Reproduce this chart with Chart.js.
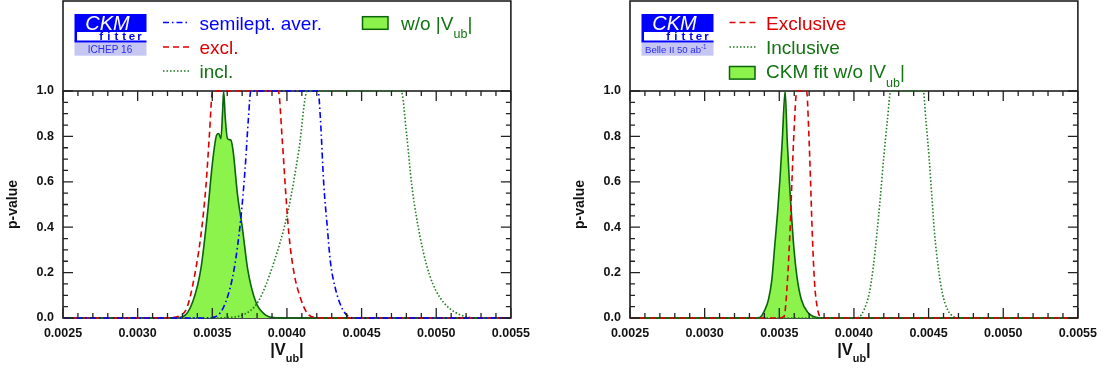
<!DOCTYPE html>
<html>
<head>
<meta charset="utf-8">
<script src="https://cdn.jsdelivr.net/npm/chart.js@4/dist/chart.umd.min.js"></script>
<style>
  html, body { margin: 0; padding: 0; background: #fff; }
  #wrap { position: relative; width: 1105px; height: 369px; overflow: hidden; }
  .panel { position: absolute; top: 0; width: 538px; height: 369px; }
</style>
</head>
<body>
<div id="wrap">
  <div class="panel" style="left:0px"><canvas id="ichep" width="538" height="369"></canvas></div>
  <div class="panel" style="left:567px"><canvas id="belle" width="538" height="369"></canvas></div>
</div>
<script>
const FONT = '"Liberation Sans", Arial, Helvetica, sans-serif';

// axis ticks
const xTickValues = [0.0025, 0.0030, 0.0035, 0.0040, 0.0045, 0.0050, 0.0055];
const xTickLabels = ['0.0025', '0.0030', '0.0035', '0.0040', '0.0045', '0.0050', '0.0055'];
const yTickValues = [0, 0.2, 0.4, 0.6, 0.8, 1.0];
const yTickLabels = ['0.0', '0.2', '0.4', '0.6', '0.8', '1.0'];

// left panel (ICHEP 16)
const semiX = [0.0025, 0.00345, 0.00352, 0.003591, 0.003647, 0.003691, 0.00372, 0.003742, 0.003758,
               0.004209, 0.004224, 0.004247, 0.004269, 0.004291, 0.004324, 0.004369, 0.004413, 0.00446, 0.0055];
const semiP = [0, 0, 0.005, 0.072, 0.219, 0.439, 0.659, 0.88, 1,
               1, 0.88, 0.586, 0.41, 0.248, 0.131, 0.043, 0.006, 0, 0];

const exclX = [0.0025, 0.0032, 0.003291, 0.00333, 0.003369, 0.003424, 0.003458, 0.00348, 0.003502,
               0.003942, 0.003969, 0.003991, 0.004013, 0.004047, 0.004091, 0.004136, 0.00419, 0.0043, 0.0055];
const exclP = [0, 0.001, 0.013, 0.045, 0.145, 0.366, 0.586, 0.8, 1,
               1, 0.78, 0.56, 0.37, 0.2, 0.087, 0.021, 0.002, 0, 0];

const inclX = [0.0025, 0.0035, 0.003591, 0.003702, 0.003807, 0.00391, 0.004007, 0.00408, 0.004136,
               0.004765, 0.004802, 0.004836, 0.004869, 0.004913, 0.004955, 0.005, 0.00505, 0.0051, 0.00516, 0.00522, 0.00528, 0.0055];
const inclP = [0, 0, 0.002, 0.013, 0.072, 0.24, 0.47, 0.74, 1,
               1, 0.806, 0.586, 0.439, 0.292, 0.19, 0.118, 0.068, 0.037, 0.014, 0.003, 0, 0];

const fitX = [0.0025, 0.00322, 0.003302, 0.003369, 0.003424, 0.003469, 0.003502, 0.003529, 0.003542, 0.003558,
              0.003569, 0.003576, 0.003587, 0.003602, 0.003624, 0.00364, 0.003669, 0.003702, 0.003736,
              0.003791, 0.003858, 0.003913, 0.0040, 0.0055];
const fitP = [0, 0, 0.006, 0.072, 0.219, 0.468, 0.689, 0.806, 0.813, 0.79,
              0.909, 1.0, 0.88, 0.79, 0.784, 0.733, 0.542, 0.395, 0.219,
              0.072, 0.013, 0.002, 0, 0];

// right panel (Belle II 50 ab-1)
const b2ExclX = [0.0025, 0.0035, 0.003532, 0.003555, 0.003572, 0.003585, 0.003599, 0.003617,
                 0.003683, 0.003697, 0.003709, 0.00372, 0.003735, 0.003753, 0.003776, 0.0038, 0.0055];
const b2ExclP = [0, 0, 0.007, 0.168, 0.388, 0.608, 0.827, 1,
                 1, 0.827, 0.608, 0.388, 0.168, 0.051, 0.004, 0, 0];

const b2InclX = [0.0025, 0.0040, 0.004033, 0.004068, 0.004103, 0.00413, 0.004154, 0.004177, 0.0042, 0.004224, 0.004247,
                 0.004464, 0.004482, 0.004503, 0.004522, 0.00454, 0.004564, 0.004592, 0.004627, 0.004673, 0.0047, 0.0055];
const b2InclP = [0, 0, 0.004, 0.037, 0.11, 0.227, 0.373, 0.534, 0.71, 0.871, 1,
                 1, 0.871, 0.71, 0.534, 0.373, 0.227, 0.11, 0.037, 0.004, 0, 0];

const b2FitX = [0.0025, 0.00334, 0.003369, 0.003404, 0.003427, 0.00345, 0.003469, 0.003488, 0.003504, 0.00352, 0.003539,
                0.003553, 0.003567, 0.003581, 0.003597, 0.003618, 0.003648, 0.003695, 0.003741, 0.00378, 0.0055];
const b2FitP = [0, 0, 0.002, 0.037, 0.08, 0.168, 0.315, 0.461, 0.608, 0.783, 1,
                0.783, 0.608, 0.461, 0.315, 0.183, 0.08, 0.022, 0.004, 0, 0];

const BLUE = '#0000ff', RED = '#dd0000', GREEN = '#1b7d1b', TEXTGREEN = '#127312';
const FILLGREEN = '#8cf24c', EDGEGREEN = '#0a640a';

function pts(xs, ps) { return xs.map((x, i) => ({ x: x, y: ps[i] })); }

function lineSet(label, xs, ps, color, dash, textColor) {
  return { label, data: pts(xs, ps), borderColor: color, borderDash: dash, borderWidth: 1.6,
           fill: false, pointRadius: 0, cubicInterpolationMode: 'monotone', clip: 3, textColor };
}
function fitSet(label, xs, ps) {
  return { label, data: pts(xs, ps), borderColor: EDGEGREEN, backgroundColor: FILLGREEN, borderWidth: 1.6,
           fill: 'origin', pointRadius: 0, cubicInterpolationMode: 'monotone', clip: 3, textColor: TEXTGREEN };
}

// text with _{sub} and ^{sup}
function richParts(text) {
  return text.split(/([_^]\{[^}]*\})/).filter(p => p);
}
function richWidth(ctx, text, size, weight) {
  let w = 0;
  for (const p of richParts(text)) {
    const small = p[0] === '_' || p[0] === '^';
    const s = small ? p.slice(2, -1) : p;
    ctx.font = weight + ' ' + (small ? size * 0.66 : size) + 'px ' + FONT;
    w += ctx.measureText(s).width;
  }
  return w;
}
function drawRich(ctx, x, y, text, size, weight, color, subDy, supDy) {
  ctx.fillStyle = color;
  ctx.textAlign = 'left';
  ctx.textBaseline = 'alphabetic';
  let cx = x;
  for (const p of richParts(text)) {
    const small = p[0] === '_' || p[0] === '^';
    const s = small ? p.slice(2, -1) : p;
    ctx.font = weight + ' ' + (small ? size * 0.66 : size) + 'px ' + FONT;
    const dy = p[0] === '_' ? subDy : (p[0] === '^' ? -supDy : 0);
    ctx.fillText(s, cx, y + dy);
    cx += ctx.measureText(s).width;
  }
}

function drawLogo(ctx, x0, sub) {
  const w = 72;
  ctx.save();
  ctx.fillStyle = '#0000ff';
  ctx.fillRect(x0, 14, w, 18);
  ctx.fillRect(x0, 32, 2.5, 9);
  ctx.fillRect(x0, 40.5, w, 2.2);
  ctx.fillStyle = '#c6c6f2';
  ctx.fillRect(x0, 42.7, w, 13);
  ctx.fillStyle = '#ffffff';
  ctx.font = 'italic 20px ' + FONT;
  ctx.textAlign = 'center';
  ctx.textBaseline = 'alphabetic';
  ctx.fillText('CKM', x0 + 33, 29.5);
  ctx.fillStyle = '#0000ff';
  ctx.font = 'bold 11.5px ' + FONT;
  const letters = ['f', 'i', 't', 't', 'e', 'r'];
  letters.forEach((c, i) => ctx.fillText(c, x0 + 26.6 + i * 7.7, 40.3));
  if (sub.indexOf('^') < 0) {
    ctx.fillStyle = '#2a2af0';
    ctx.font = '10px ' + FONT;
    ctx.fillText(sub, x0 + 35.5, 53.3);
  } else {
    drawRich(ctx, x0 + 3.5, 53.3, sub, 9.6, 'normal', '#2a2af0', 0, 4);
  }
  ctx.restore();
}

const ckmPlugin = {
  id: 'ckm',
  beforeDatasetsDraw(chart) {
    const { ctx, chartArea: a } = chart;
    ctx.save();
    ctx.strokeStyle = '#111';
    ctx.lineWidth = 1.5;
    ctx.strokeRect(a.left, 1, a.right - a.left, a.bottom - 1);
    ctx.beginPath();
    ctx.moveTo(a.left, a.top);
    ctx.lineTo(a.right, a.top);
    ctx.stroke();
    ctx.restore();
  },
  afterDatasetsDraw(chart) {
    const { ctx, chartArea: a, scales } = chart;
    const x = scales.x, y = scales.y;
    ctx.save();
    ctx.strokeStyle = '#222';
    ctx.lineWidth = 1.3;
    ctx.beginPath();
    for (let i = 0; i <= 30; i++) {
      const px = x.getPixelForValue(0.0025 + i * 0.0001);
      const len = i % 5 === 0 ? 10 : 5;
      ctx.moveTo(px, a.bottom); ctx.lineTo(px, a.bottom - len);
      ctx.moveTo(px, a.top); ctx.lineTo(px, a.top + len);
    }
    for (let i = 0; i <= 20; i++) {
      const py = y.getPixelForValue(i * 0.05);
      const len = i % 4 === 0 ? 10 : 5;
      ctx.moveTo(a.left, py); ctx.lineTo(a.left + len, py);
      ctx.moveTo(a.right, py); ctx.lineTo(a.right - len, py);
    }
    ctx.stroke();
    ctx.restore();
  },
  afterDraw(chart, args, opts) {
    const { ctx, chartArea: a } = chart;
    const sets = chart.data.datasets;
    ctx.save();
    drawLogo(ctx, a.left + 11.5, opts.logoText);
    (opts.items || []).forEach(it => {
      const ds = sets[it.ds];
      if (it.box) {
        ctx.fillStyle = ds.backgroundColor;
        ctx.strokeStyle = ds.borderColor;
        ctx.lineWidth = 1.5;
        ctx.setLineDash([]);
        ctx.fillRect(a.left + it.sx, it.sy, 25.5, 12.6);
        ctx.strokeRect(a.left + it.sx, it.sy, 25.5, 12.6);
      } else {
        ctx.strokeStyle = ds.borderColor;
        ctx.lineWidth = 1.5;
        ctx.setLineDash(ds.borderDash || []);
        ctx.beginPath();
        ctx.moveTo(a.left + it.sx, it.sy);
        ctx.lineTo(a.left + it.sx + 26, it.sy);
        ctx.stroke();
        ctx.setLineDash([]);
      }
      drawRich(ctx, a.left + it.tx, it.ty, ds.label, 19, 'normal', ds.textColor, 8.5, 0);
    });
    // x axis title |V_ub|
    const title = '|V_{ub}|';
    const tw = richWidth(ctx, title, 16.5, 'bold');
    drawRich(ctx, (a.left + a.right) / 2 - tw / 2, 355, title, 16.5, 'bold', '#111', 7, 0);
    ctx.restore();
  }
};

function makeChart(id, datasets, logoText, items) {
  return new Chart(document.getElementById(id), {
    type: 'line',
    data: { datasets },
    plugins: [ckmPlugin],
    options: {
      responsive: false,
      animation: false,
      devicePixelRatio: 1,
      layout: { padding: { top: 91, right: 25, left: 0, bottom: 0 } },
      plugins: {
        legend: { display: false },
        tooltip: { enabled: false },
        ckm: { logoText, items }
      },
      scales: {
        x: {
          type: 'linear', min: 0.0025, max: 0.0055,
          grid: { display: false, drawTicks: false }, border: { display: false },
          afterBuildTicks: s => { s.ticks = xTickValues.map(v => ({ value: v })); },
          ticks: {
            callback: (v, i) => xTickLabels[i], autoSkip: false, maxRotation: 0,
            font: { family: FONT, size: 12.5, weight: 'bold' }, color: '#111', padding: 8
          },
          afterFit: s => { s.height = 51; }
        },
        y: {
          type: 'linear', min: 0, max: 1,
          grid: { display: false, drawTicks: false }, border: { display: false },
          afterBuildTicks: s => { s.ticks = yTickValues.map(v => ({ value: v })); },
          ticks: {
            callback: (v, i) => yTickLabels[i], autoSkip: false,
            font: { family: FONT, size: 12.5, weight: 'bold' }, color: '#111', padding: 9
          },
          title: {
            display: true, text: 'p-value', color: '#111',
            font: { family: FONT, size: 14, weight: 'bold' }, padding: { top: 5, bottom: 0 }
          },
          afterFit: s => { s.width = 63; }
        }
      }
    }
  });
}

makeChart('ichep', [
  lineSet('semilept. aver.', semiX, semiP, BLUE, [6, 3, 1.5, 3], BLUE),
  lineSet('excl.', exclX, exclP, RED, [6, 4], RED),
  lineSet('incl.', inclX, inclP, GREEN, [1.5, 2], TEXTGREEN),
  fitSet('w/o |V_{ub}|', fitX, fitP)
], 'ICHEP 16', [
  { ds: 0, sx: 100, sy: 22.5, tx: 136.5, ty: 29.5 },
  { ds: 1, sx: 100, sy: 47, tx: 136.5, ty: 54 },
  { ds: 2, sx: 100, sy: 71, tx: 136.5, ty: 78 },
  { ds: 3, box: true, sx: 299.5, sy: 16.7, tx: 338, ty: 29.5 }
]);

makeChart('belle', [
  lineSet('Exclusive', b2ExclX, b2ExclP, RED, [6, 4], RED),
  lineSet('Inclusive', b2InclX, b2InclP, GREEN, [1.5, 2], TEXTGREEN),
  fitSet('CKM fit w/o |V_{ub}|', b2FitX, b2FitP)
], 'Belle II 50 ab^{-1}', [
  { ds: 0, sx: 99.5, sy: 22.5, tx: 136, ty: 29.5 },
  { ds: 1, sx: 99.5, sy: 47, tx: 136, ty: 54 },
  { ds: 2, box: true, sx: 99.5, sy: 66.5, tx: 136, ty: 78 }
]);
</script>
</body>
</html>
